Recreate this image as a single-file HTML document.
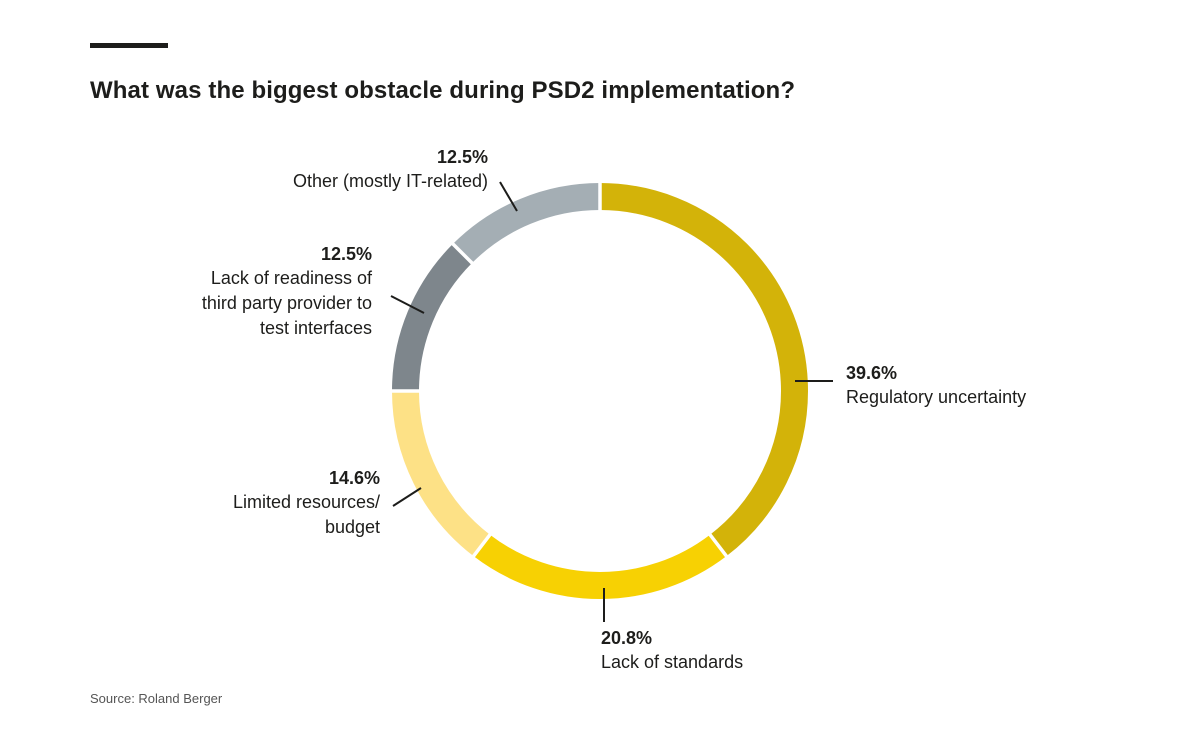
<!DOCTYPE html>
<html><head><meta charset="utf-8"><style>
html,body{margin:0;padding:0;background:#fff;}
body{width:1200px;height:736px;overflow:hidden;}
svg text{font-family:"Liberation Sans",sans-serif;fill:#1d1d1b;}
</style></head><body>
<svg width="1200" height="736" viewBox="0 0 1200 736">
<rect x="90" y="43" width="78" height="5" fill="#1d1d1b"/>
<text x="90" y="98" font-size="24" font-weight="bold" textLength="705">What was the biggest obstacle during PSD2 implementation?</text>
<g transform="translate(600,391) rotate(-90)" fill="none" stroke-width="27">
<circle r="194.5" pathLength="100" stroke="#d3b309" stroke-dasharray="39.6 60.4" stroke-dashoffset="0"/>
<circle r="194.5" pathLength="100" stroke="#f7d103" stroke-dasharray="20.8 79.2" stroke-dashoffset="-39.6"/>
<circle r="194.5" pathLength="100" stroke="#fde186" stroke-dasharray="14.6 85.4" stroke-dashoffset="-60.4"/>
<circle r="194.5" pathLength="100" stroke="#7e868c" stroke-dasharray="12.5 87.5" stroke-dashoffset="-75"/>
<circle r="194.5" pathLength="100" stroke="#a4aeb4" stroke-dasharray="12.5 87.5" stroke-dashoffset="-87.5"/>
</g>
<g transform="translate(600,391)" stroke="#fff" stroke-width="3.5">
<line x1="0" y1="-178" x2="0" y2="-212"/>
<line x1="0" y1="-178" x2="0" y2="-212" transform="rotate(142.56)"/>
<line x1="0" y1="-178" x2="0" y2="-212" transform="rotate(217.44)"/>
<line x1="0" y1="-178" x2="0" y2="-212" transform="rotate(270)"/>
<line x1="0" y1="-178" x2="0" y2="-212" transform="rotate(315)"/>
</g>
<g stroke="#1d1d1b" stroke-width="2">
<line x1="795" y1="381" x2="833" y2="381"/>
<line x1="604" y1="588" x2="604" y2="622"/>
<line x1="393" y1="506" x2="421" y2="488"/>
<line x1="391" y1="296" x2="424" y2="313"/>
<line x1="500" y1="182" x2="517" y2="211"/>
</g>
<g font-size="18">
<text x="846" y="379" font-weight="bold">39.6%</text>
<text x="846" y="403">Regulatory uncertainty</text>
<text x="601" y="644" font-weight="bold">20.8%</text>
<text x="601" y="668">Lack of standards</text>
<g text-anchor="end">
<text x="380" y="484" font-weight="bold">14.6%</text>
<text x="380" y="508">Limited resources/</text>
<text x="380" y="533">budget</text>
<text x="372" y="260" font-weight="bold">12.5%</text>
<text x="372" y="284">Lack of readiness of</text>
<text x="372" y="309">third party provider to</text>
<text x="372" y="334">test interfaces</text>
<text x="488" y="163" font-weight="bold">12.5%</text>
<text x="488" y="187">Other (mostly IT-related)</text>
</g>
</g>
<text x="90" y="703" font-size="13" style="fill:#555">Source: Roland Berger</text>
</svg>
</body></html>
